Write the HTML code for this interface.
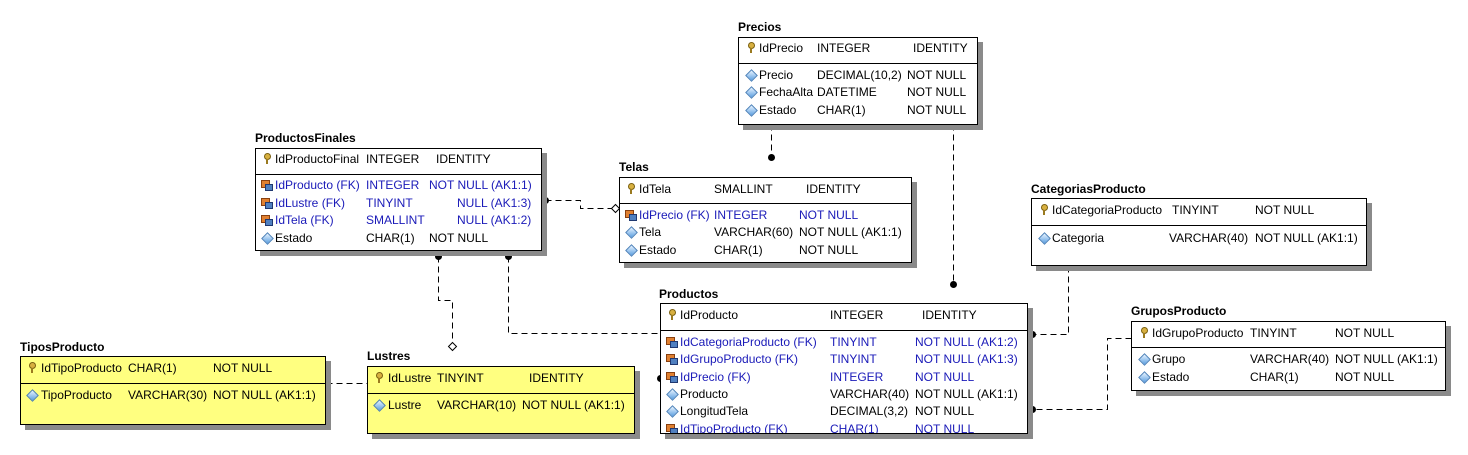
<!DOCTYPE html>
<html><head><meta charset="utf-8"><style>
body{margin:0;width:1468px;height:455px;background:#fff;position:relative;overflow:hidden;font-family:"Liberation Sans",Arial,sans-serif;font-size:12px;color:#000}
.bx{position:absolute;border:1px solid #000;background:#fff;box-shadow:5px 5px 0 #8a8a8a;box-sizing:border-box}
.y{background:#ffff80}
.dv{position:absolute;left:0;right:0;border-top:1px solid #000}
.ti{position:absolute;font-weight:bold;font-size:12px}
.t{position:absolute;white-space:nowrap;line-height:14px}
.b{color:#1a1ab8}
.k,.d,.f{position:absolute;width:11px;height:11px}
.d::before{content:"";position:absolute;left:2px;top:2px;width:7px;height:7px;background:linear-gradient(135deg,#e8f4ff,#5a9ee0);border:1px solid #4a7fb8;transform:rotate(45deg)}
.k::before{content:"";position:absolute;left:3px;top:0;width:5px;height:5px;border-radius:50%;background:#d8b040;border:1px solid #7a6010}
.k::after{content:"";position:absolute;left:5px;top:6px;width:2px;height:5px;background:#9a7a20}
.f::before{content:"";position:absolute;left:0;top:1px;width:7px;height:6px;background:#e08030;border:1px solid #884010}
.f::after{content:"";position:absolute;left:4px;top:5px;width:6px;height:5px;background:#5080c0;border:1px solid #203870}
svg{position:absolute;left:0;top:0}
</style></head><body>
<svg width="1468" height="455" shape-rendering="crispEdges">
<g stroke="#000" stroke-width="1" fill="none" stroke-dasharray="6,4" transform="translate(0.5,0.5)">
<path d="M771 124V157"/>
<path d="M953 124V284"/>
<path d="M1068 266V334H1032"/>
<path d="M1131 338H1107V409H1032"/>
<path d="M545 200H580V208H612"/>
<path d="M438 256V300H452V342"/>
<path d="M508 256V333H660"/>
<path d="M326 383H367"/>
</g>
<g fill="#000" shape-rendering="auto">
<circle cx="771.5" cy="157.5" r="3.5"/><circle cx="953.5" cy="284.5" r="3.5"/>
<circle cx="1032.5" cy="334.5" r="3.5"/><circle cx="1032.5" cy="409.5" r="3.5"/>
<circle cx="545.5" cy="200.5" r="3.5"/><circle cx="438.5" cy="256.5" r="3.5"/><circle cx="508.5" cy="256.5" r="3.5"/>
<circle cx="660.5" cy="378.5" r="3.5"/>
</g>
<path d="M615.5 204.5l4 4-4 4-4-4z" fill="#fff" stroke="#000" shape-rendering="auto"/>
<path d="M452.5 342.5l4 4-4 4-4-4z" fill="#fff" stroke="#000" shape-rendering="auto"/>
</svg>

<!-- Precios -->
<div class="ti" style="left:738px;top:20px">Precios</div>
<div class="bx" style="left:738px;top:37px;width:240px;height:88px"><div class="dv" style="top:25px"></div></div>
<div class="k" style="left:745px;top:42px"></div><div class="t" style="left:759px;top:41px">IdPrecio</div><div class="t" style="left:817px;top:41px">INTEGER</div><div class="t" style="left:913px;top:41px">IDENTITY</div>
<div class="d" style="left:745px;top:69px"></div><div class="t" style="left:759px;top:68px">Precio</div><div class="t" style="left:817px;top:68px">DECIMAL(10,2)</div><div class="t" style="left:907px;top:68px">NOT NULL</div>
<div class="d" style="left:745px;top:86px"></div><div class="t" style="left:759px;top:85px">FechaAlta</div><div class="t" style="left:817px;top:85px">DATETIME</div><div class="t" style="left:907px;top:85px">NOT NULL</div>
<div class="d" style="left:745px;top:104px"></div><div class="t" style="left:759px;top:103px">Estado</div><div class="t" style="left:817px;top:103px">CHAR(1)</div><div class="t" style="left:907px;top:103px">NOT NULL</div>

<!-- ProductosFinales -->
<div class="ti" style="left:255px;top:131px">ProductosFinales</div>
<div class="bx" style="left:255px;top:148px;width:287px;height:103px"><div class="dv" style="top:25px"></div></div>
<div class="k" style="left:261px;top:153px"></div><div class="t" style="left:275px;top:152px">IdProductoFinal</div><div class="t" style="left:366px;top:152px">INTEGER</div><div class="t" style="left:436px;top:152px">IDENTITY</div>
<div class="f" style="left:261px;top:179px"></div><div class="t b" style="left:275px;top:178px">IdProducto (FK)</div><div class="t b" style="left:366px;top:178px">INTEGER</div><div class="t b" style="left:429px;top:178px">NOT NULL (AK1:1)</div>
<div class="f" style="left:261px;top:197px"></div><div class="t b" style="left:275px;top:196px">IdLustre (FK)</div><div class="t b" style="left:366px;top:196px">TINYINT</div><div class="t b" style="left:457px;top:196px">NULL (AK1:3)</div>
<div class="f" style="left:261px;top:214px"></div><div class="t b" style="left:275px;top:213px">IdTela (FK)</div><div class="t b" style="left:366px;top:213px">SMALLINT</div><div class="t b" style="left:457px;top:213px">NULL (AK1:2)</div>
<div class="d" style="left:261px;top:232px"></div><div class="t" style="left:275px;top:231px">Estado</div><div class="t" style="left:366px;top:231px">CHAR(1)</div><div class="t" style="left:429px;top:231px">NOT NULL</div>

<!-- Telas -->
<div class="ti" style="left:619px;top:160px">Telas</div>
<div class="bx" style="left:619px;top:177px;width:293px;height:86px"><div class="dv" style="top:25px"></div></div>
<div class="k" style="left:625px;top:183px"></div><div class="t" style="left:639px;top:182px">IdTela</div><div class="t" style="left:714px;top:182px">SMALLINT</div><div class="t" style="left:806px;top:182px">IDENTITY</div>
<div class="f" style="left:625px;top:209px"></div><div class="t b" style="left:639px;top:208px">IdPrecio (FK)</div><div class="t b" style="left:714px;top:208px">INTEGER</div><div class="t b" style="left:799px;top:208px">NOT NULL</div>
<div class="d" style="left:625px;top:226px"></div><div class="t" style="left:639px;top:225px">Tela</div><div class="t" style="left:714px;top:225px">VARCHAR(60)</div><div class="t" style="left:799px;top:225px">NOT NULL (AK1:1)</div>
<div class="d" style="left:625px;top:244px"></div><div class="t" style="left:639px;top:243px">Estado</div><div class="t" style="left:714px;top:243px">CHAR(1)</div><div class="t" style="left:799px;top:243px">NOT NULL</div>

<!-- CategoriasProducto -->
<div class="ti" style="left:1031px;top:182px">CategoriasProducto</div>
<div class="bx" style="left:1031px;top:198px;width:336px;height:68px"><div class="dv" style="top:26px"></div></div>
<div class="k" style="left:1038px;top:204px"></div><div class="t" style="left:1052px;top:203px">IdCategoriaProducto</div><div class="t" style="left:1172px;top:203px">TINYINT</div><div class="t" style="left:1255px;top:203px">NOT NULL</div>
<div class="d" style="left:1038px;top:232px"></div><div class="t" style="left:1052px;top:231px">Categoria</div><div class="t" style="left:1169px;top:231px">VARCHAR(40)</div><div class="t" style="left:1255px;top:231px">NOT NULL (AK1:1)</div>

<!-- Productos -->
<div class="ti" style="left:659px;top:287px">Productos</div>
<div class="bx" style="left:660px;top:303px;width:368px;height:131px;overflow:hidden"><div class="dv" style="top:26px"></div>
<div class="f" style="left:5px;top:119px"></div><div class="t b" style="left:19px;top:118px">IdTipoProducto (FK)</div><div class="t b" style="left:169px;top:118px">CHAR(1)</div><div class="t b" style="left:254px;top:118px">NOT NULL</div></div>
<div class="k" style="left:666px;top:309px"></div><div class="t" style="left:680px;top:308px">IdProducto</div><div class="t" style="left:830px;top:308px">INTEGER</div><div class="t" style="left:922px;top:308px">IDENTITY</div>
<div class="f" style="left:666px;top:336px"></div><div class="t b" style="left:680px;top:335px">IdCategoriaProducto (FK)</div><div class="t b" style="left:830px;top:335px">TINYINT</div><div class="t b" style="left:915px;top:335px">NOT NULL (AK1:2)</div>
<div class="f" style="left:666px;top:353px"></div><div class="t b" style="left:680px;top:352px">IdGrupoProducto (FK)</div><div class="t b" style="left:830px;top:352px">TINYINT</div><div class="t b" style="left:915px;top:352px">NOT NULL (AK1:3)</div>
<div class="f" style="left:666px;top:371px"></div><div class="t b" style="left:680px;top:370px">IdPrecio (FK)</div><div class="t b" style="left:830px;top:370px">INTEGER</div><div class="t b" style="left:915px;top:370px">NOT NULL</div>
<div class="d" style="left:666px;top:388px"></div><div class="t" style="left:680px;top:387px">Producto</div><div class="t" style="left:830px;top:387px">VARCHAR(40)</div><div class="t" style="left:915px;top:387px">NOT NULL (AK1:1)</div>
<div class="d" style="left:666px;top:405px"></div><div class="t" style="left:680px;top:404px">LongitudTela</div><div class="t" style="left:830px;top:404px">DECIMAL(3,2)</div><div class="t" style="left:915px;top:404px">NOT NULL</div>

<!-- GruposProducto -->
<div class="ti" style="left:1131px;top:304px">GruposProducto</div>
<div class="bx" style="left:1131px;top:321px;width:315px;height:70px"><div class="dv" style="top:25px"></div></div>
<div class="k" style="left:1138px;top:327px"></div><div class="t" style="left:1152px;top:326px">IdGrupoProducto</div><div class="t" style="left:1250px;top:326px">TINYINT</div><div class="t" style="left:1335px;top:326px">NOT NULL</div>
<div class="d" style="left:1138px;top:353px"></div><div class="t" style="left:1152px;top:352px">Grupo</div><div class="t" style="left:1250px;top:352px">VARCHAR(40)</div><div class="t" style="left:1335px;top:352px">NOT NULL (AK1:1)</div>
<div class="d" style="left:1138px;top:371px"></div><div class="t" style="left:1152px;top:370px">Estado</div><div class="t" style="left:1250px;top:370px">CHAR(1)</div><div class="t" style="left:1335px;top:370px">NOT NULL</div>

<!-- TiposProducto -->
<div class="ti" style="left:20px;top:340px">TiposProducto</div>
<div class="bx y" style="left:20px;top:356px;width:306px;height:69px"><div class="dv" style="top:26px"></div></div>
<div class="k" style="left:26px;top:362px"></div><div class="t" style="left:41px;top:361px">IdTipoProducto</div><div class="t" style="left:128px;top:361px">CHAR(1)</div><div class="t" style="left:213px;top:361px">NOT NULL</div>
<div class="d" style="left:26px;top:389px"></div><div class="t" style="left:41px;top:388px">TipoProducto</div><div class="t" style="left:128px;top:388px">VARCHAR(30)</div><div class="t" style="left:213px;top:388px">NOT NULL (AK1:1)</div>

<!-- Lustres -->
<div class="ti" style="left:367px;top:349px">Lustres</div>
<div class="bx y" style="left:367px;top:366px;width:268px;height:68px"><div class="dv" style="top:26px"></div></div>
<div class="k" style="left:373px;top:372px"></div><div class="t" style="left:388px;top:371px">IdLustre</div><div class="t" style="left:437px;top:371px">TINYINT</div><div class="t" style="left:529px;top:371px">IDENTITY</div>
<div class="d" style="left:373px;top:399px"></div><div class="t" style="left:388px;top:398px">Lustre</div><div class="t" style="left:437px;top:398px">VARCHAR(10)</div><div class="t" style="left:522px;top:398px">NOT NULL (AK1:1)</div>
</body></html>
